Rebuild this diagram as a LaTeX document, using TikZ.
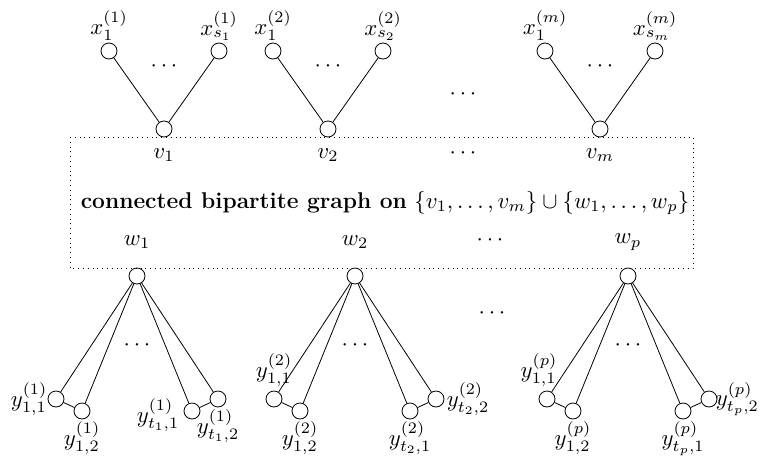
\RequirePackage{fix-cm}
\documentclass[tikz,border=0pt]{standalone}
\usetikzlibrary{positioning}
\begin{document}
\begin{tikzpicture}[x=0.5pt,y=-0.5pt,line width=0.4pt,font=\fontsize{11.4}{14}\selectfont,
  vtx/.style={circle,draw,minimum size=8pt,inner sep=0pt},
  lbl/.style={inner sep=1pt}]
  \useasboundingbox (0,0) rectangle (761,456);
  % the box standing for the bipartite graph
  \draw[dotted] (70,137) rectangle (693,268);
  \node (bip) at (385,203) {\textbf{connected bipartite graph on} $\{v_1,\ldots,v_m\}\cup\{w_1,\ldots,w_p\}$};
  % top stars, centred on v_i
  \foreach \i/\vx in {1/164,2/328,m/600} {
    \node[vtx] (v\i) at (\vx,129) {};
    \node[vtx] (xa\i) at (\vx-55,51) {};
    \node[vtx] (xb\i) at (\vx+55,51) {};
    \draw (xa\i) -- (v\i) -- (xb\i);
    \node (xdots\i) at (\vx,66) {$\cdots$};
    \node[lbl,above=0pt of xa\i] (xla\i) {$x_1^{(\i)}$};
    \node[lbl,above=0pt of xb\i] (xlb\i) {$x_{s_\i}^{(\i)}$};
    \node (vl\i) at (\vx,155) {$v_\i$};
  }
  \node (vdots) at (463,153) {$\cdots$};
  \node (topdots) at (463,94) {$\cdots$};
  % bottom stars, centred on w_j
  \foreach \j/\wx in {1/137,2/355,p/628} {
    \node[vtx] (w\j) at (\wx,276) {};
    \node[vtx] (ya\j) at (\wx-81,399) {};
    \node[vtx] (yb\j) at (\wx-55,411) {};
    \node[vtx] (yc\j) at (\wx+55,411) {};
    \node[vtx] (yd\j) at (\wx+81,399) {};
    \draw (ya\j) -- (w\j) -- (yb\j);
    \draw (yc\j) -- (w\j) -- (yd\j);
    \draw (ya\j) -- (yb\j);
    \draw (yc\j) -- (yd\j);
    \node (ydots\j) at (\wx,345) {$\cdots$};
    \node (wl\j) at (\wx,242) {$w_\j$};
    \node[lbl,below=0pt of yb\j] (ylb\j) {$y_{1,2}^{(\j)}$};
  }
  \node (wdots) at (490,240) {$\cdots$};
  \node (botdots) at (492,313) {$\cdots$};
  % labels that sit differently in each group
  \node[lbl,left=-1pt of ya1] (yla1) {$y_{1,1}^{(1)}$};
  \node[lbl,left=1pt of yc1,yshift=-2pt] (ylc1) {$y_{t_1,1}^{(1)}$};
  \node[lbl,below=0pt of yd1] (yld1) {$y_{t_1,2}^{(1)}$};
  \node[lbl,above=1pt of ya2] (yla2) {$y_{1,1}^{(2)}$};
  \node[lbl,below=0pt of yc2] (ylc2) {$y_{t_2,1}^{(2)}$};
  \node[lbl,right=0pt of yd2] (yld2) {$y_{t_2,2}^{(2)}$};
  \node[lbl,above=1pt of yap,xshift=-4pt] (ylap) {$y_{1,1}^{(p)}$};
  \node[lbl,below=0pt of ycp] (ylcp) {$y_{t_p,1}^{(p)}$};
  \node[lbl,right=-2pt of ydp] (yldp) {$y_{t_p,2}^{(p)}$};
\end{tikzpicture}
\end{document}
